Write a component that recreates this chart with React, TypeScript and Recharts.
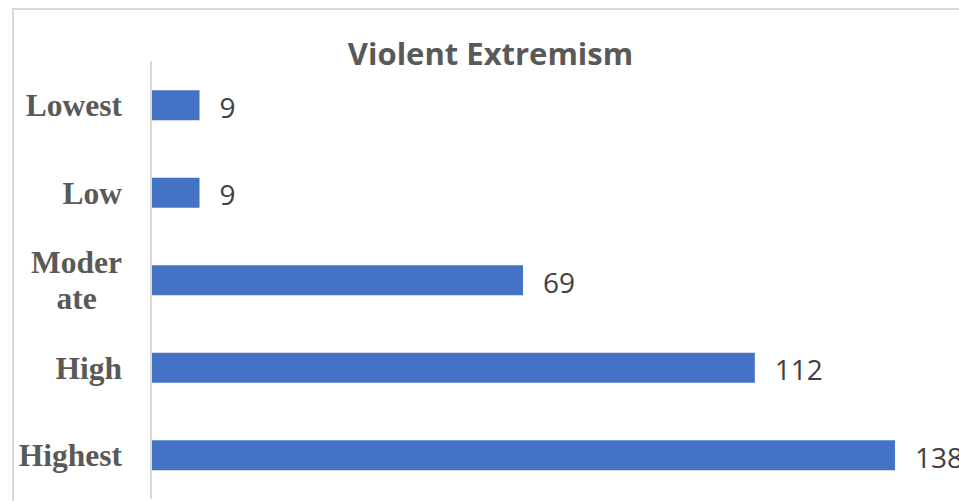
import React from "react";
import { Bar, BarChart, LabelList, XAxis, YAxis } from "recharts";

const categories = ["Lowest", "Low", "Moderate", "High", "Highest"];
const tickLabels = [["Lowest"], ["Low"], ["Moder", "ate"], ["High"], ["Highest"]];
const counts = [9, 9, 69, 112, 138];

const W = 959;
const H = 501;
const TICK_SIZE = 31.5;
const TICK_FONT = `bold ${TICK_SIZE}px 'Liberation Serif', 'Times New Roman', serif`;

const data = categories.map((name, i) => ({ name, value: counts[i] }));

let ctx: CanvasRenderingContext2D | null = null;
function textWidth(s: string) {
  if (!ctx) ctx = document.createElement("canvas").getContext("2d");
  if (!ctx) return s.length * 15;
  ctx.font = TICK_FONT;
  return ctx.measureText(s).width;
}

function CategoryTick(props: any) {
  const { x, y, payload } = props;
  const idx = categories.indexOf(payload.value);
  const lines = tickLabels[idx] ?? [payload.value];
  const common = {
    fill: "#595959",
    fontFamily: "'Liberation Serif', 'Times New Roman', serif",
    fontWeight: 700,
    fontSize: TICK_SIZE,
  };
  if (lines.length === 1) {
    return (
      <text x={x} y={y + 11} textAnchor="end" {...common}>
        {lines[0]}
      </text>
    );
  }
  const widest = Math.max(...lines.map(textWidth));
  const cx = x - widest / 2;
  const lh = 36;
  const first = y + 11 - (lh * (lines.length - 1)) / 2;
  return (
    <text textAnchor="middle" {...common}>
      {lines.map((l, i) => (
        <tspan key={i} x={cx} y={first + i * lh}>
          {l}
        </tspan>
      ))}
    </text>
  );
}

function ValueLabel(props: any) {
  const { x, y, width, height, value } = props;
  return (
    <text
      x={x + width + 20}
      y={y + height / 2 + 12.5}
      fill="#404040"
      fontFamily="'Open Sans', 'Noto Sans', sans-serif"
      fontSize={28}
    >
      {value}
    </text>
  );
}

export default function App() {
  return (
    <div
      style={{
        position: "absolute",
        left: 0,
        top: 0,
        width: W,
        height: H,
        overflow: "hidden",
        background: "#fff",
      }}
    >
      <BarChart
        width={W}
        height={H}
        data={data}
        layout="vertical"
        margin={{ top: 61.25, right: 64, bottom: 2.25, left: 0 }}
        barSize={30}
      >
        <XAxis type="number" domain={[0, 138]} hide />
        <YAxis
          type="category"
          dataKey="name"
          width={151}
          tickLine={false}
          tickSize={6}
          tickMargin={23}
          axisLine={{ stroke: "#d9d9d9", strokeWidth: 2 }}
          tick={<CategoryTick />}
          interval={0}
        />
        <Bar dataKey="value" fill="#4472c4" isAnimationActive={false}>
          <LabelList dataKey="value" content={<ValueLabel />} />
        </Bar>
      </BarChart>
      <svg
        width={W}
        height={H}
        style={{ position: "absolute", left: 0, top: 0, pointerEvents: "none" }}
      >
        <polyline points={`13,${H} 13,9 ${W},9`} fill="none" stroke="#d9d9d9" strokeWidth={2} />
        <text
          x={490.5}
          y={65}
          textAnchor="middle"
          fill="#595959"
          fontFamily="'Open Sans', 'Noto Sans', sans-serif"
          fontWeight={700}
          fontSize={31}
        >
          Violent Extremism
        </text>
      </svg>
    </div>
  );
}
